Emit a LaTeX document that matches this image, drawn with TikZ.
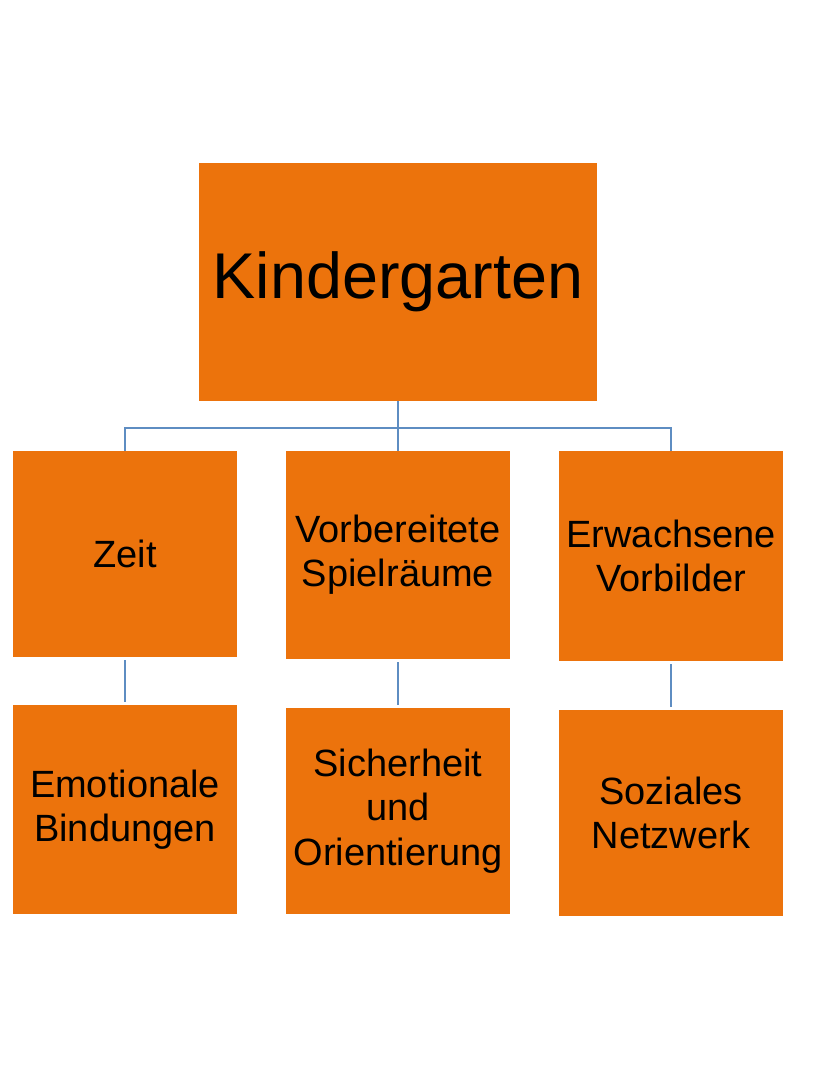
\documentclass[tikz,border=0pt]{standalone}
\usepackage{fontspec}
\setmainfont{Liberation Sans}
\usepackage{tikz}
\definecolor{boxorange}{HTML}{EC730C}
\definecolor{linkblue}{HTML}{5E8DC2}

\begin{document}
\begin{tikzpicture}[x=0.025cm, y=-0.025cm,
    box/.style={fill=boxorange, draw=none, minimum width=224*0.025cm, align=center,
      font=\fontsize{27}{31.5}\selectfont, inner sep=0pt},
    link/.style={draw=linkblue, line width=1.4pt}]
  \useasboundingbox (0,0) rectangle (814,1080);
  % root
  \node[box, minimum width=398*0.025cm, minimum height=238*0.025cm,
    font=\fontsize{46}{52}\selectfont] (kiga) at (398,282) {Kindergarten};
  % second row
  \node[box, minimum height=206*0.025cm] (zeit) at (125,554) {Zeit};
  \node[box, minimum height=208*0.025cm] (spiel) at (398,555) {Vorbereitete\\Spielräume};
  \node[box, minimum height=210*0.025cm] (vorbild) at (671,556) {Erwachsene\\Vorbilder};
  % third row
  \node[box, minimum height=209*0.025cm] (bindung) at (125,809.5) {Emotionale\\Bindungen};
  \node[box, minimum height=206*0.025cm] (sicher) at (398,811) {Sicherheit\\und\\Orientierung};
  \node[box, minimum height=206*0.025cm] (netz) at (671,813) {Soziales\\Netzwerk};
  % connectors
  \coordinate (bar) at (398,428);
  \draw[link] (kiga.south) -- (bar);
  \draw[link] (zeit.north) |- (bar) -| (vorbild.north);
  \draw[link] (spiel.north) -- (bar);
  \draw[link, shorten <=2pt, shorten >=2pt] (zeit.south) -- (bindung.north);
  \draw[link, shorten <=2pt, shorten >=2pt] (spiel.south) -- (sicher.north);
  \draw[link, shorten <=2pt, shorten >=2pt] (vorbild.south) -- (netz.north);
\end{tikzpicture}
\end{document}
